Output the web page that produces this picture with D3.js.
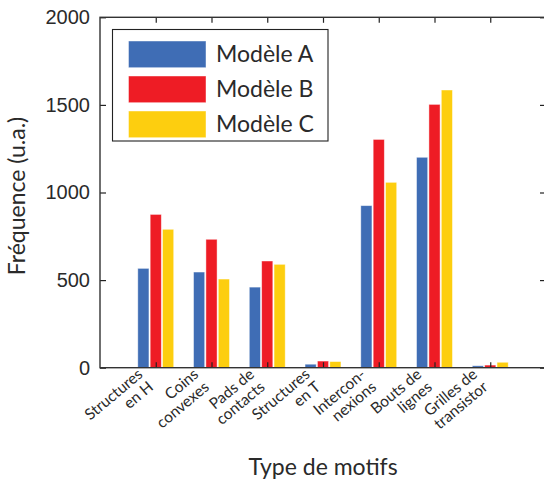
<!DOCTYPE html>
<html>
<head>
<meta charset="utf-8">
<script src="https://cdn.jsdelivr.net/npm/d3@7"></script>
<style>
  html, body { margin: 0; padding: 0; background: #fff; }
  svg { display: block; }
</style>
</head>
<body>
<svg id="chart" width="544" height="487"></svg>
<script>
// Motif categories (each label split over two lines)
const categories = [
  ["Structures", "en H"],
  ["Coins", "convexes"],
  ["Pads de", "contacts"],
  ["Structures", "en T"],
  ["Intercon-", "nexions"],
  ["Bouts de", "lignes"],
  ["Grilles de", "transistor"]
];
const seriesNames = ["Modèle A", "Modèle B", "Modèle C"];
const valuesA = [567, 546, 460, 20, 925, 1201, 11];
const valuesB = [875, 733, 609, 38, 1303, 1503, 15];
const valuesC = [790, 506, 590, 35, 1058, 1585, 31];
const yTicks = [0, 500, 1000, 1500, 2000];
const colors = ["#3F6DB5", "#EE1C25", "#FDCE0F"];

const series = [valuesA, valuesB, valuesC];
const svg = d3.select("#chart");

const x = d3.scaleLinear().domain([0, 8]).range([100, 546]);
const y = d3.scaleLinear().domain([0, 2000]).range([367.7, 17.3]);
const barOffset = 0.222, barWidth = 0.2;

const titleFont = "Lato, 'Open Sans', sans-serif";
const textColor = "#2a2a2a";

// Bars
series.forEach((vals, s) => {
  svg.append("g").selectAll("rect").data(vals).join("rect")
    .attr("x", (d, i) => x(i + 1 + (s - 1) * barOffset - barWidth / 2))
    .attr("width", x(barWidth) - x(0))
    .attr("y", d => y(d))
    .attr("height", d => y(0) - y(d))
    .attr("fill", colors[s])
    .attr("stroke", "rgba(255,255,255,0.55)")
    .attr("stroke-width", 0.8);
});

// Axes with inward ticks on all four sides
const tickStyle = g => {
  g.select(".domain").remove();
  g.selectAll(".tick line").attr("stroke", "#222").attr("stroke-width", 1.2);
};
svg.append("g").attr("transform", `translate(${x(0)},0)`)
  .call(d3.axisLeft(y).tickValues(yTicks).tickSize(-6).tickPadding(10).tickFormat(d3.format("d")))
  .call(tickStyle)
  .call(g => g.selectAll("text").attr("font-family", "'Liberation Sans', Arial, sans-serif")
    .attr("font-size", 20).attr("fill", textColor));
svg.append("g").attr("transform", `translate(${x(8)},0)`)
  .call(d3.axisRight(y).tickValues(yTicks).tickSize(-6).tickFormat(""))
  .call(tickStyle);
svg.append("g").attr("transform", `translate(0,${y(0)})`)
  .call(d3.axisBottom(x).tickValues(d3.range(1, 8)).tickSize(-5.5).tickFormat(""))
  .call(tickStyle);
svg.append("g").attr("transform", `translate(0,${y(2000)})`)
  .call(d3.axisTop(x).tickValues(d3.range(1, 8)).tickSize(-5.5).tickFormat(""))
  .call(tickStyle);

// Plot frame
svg.append("rect")
  .attr("x", x(0)).attr("y", y(2000))
  .attr("width", x(8) - x(0)).attr("height", y(0) - y(2000))
  .attr("fill", "none").attr("stroke", "#333").attr("stroke-width", 1.4);

// Rotated two-line category labels, right-aligned
const catLabels = svg.append("g").selectAll("text").data(categories).join("text")
  .attr("transform", (d, i) => `translate(${x(i + 1) - 12},376) rotate(-40)`)
  .attr("text-anchor", "end")
  .attr("font-family", titleFont)
  .attr("font-size", 15.5)
  .attr("fill", textColor);
catLabels.selectAll("tspan").data(d => d).join("tspan")
  .attr("x", 0)
  .attr("y", (d, j) => j * 16.5)
  .text(d => d);

// Axis titles
svg.append("text")
  .attr("x", (x(0) + x(8)) / 2).attr("y", 475)
  .attr("text-anchor", "middle")
  .attr("font-family", titleFont).attr("font-size", 23).attr("fill", textColor)
  .text("Type de motifs");
svg.append("text")
  .attr("transform", `translate(25,196) rotate(-90)`)
  .attr("text-anchor", "middle")
  .attr("font-family", titleFont).attr("font-size", 23).attr("fill", textColor)
  .text("Fréquence (u.a.)");

// Legend
const legend = svg.append("g");
legend.append("rect")
  .attr("x", 112.5).attr("y", 29.5).attr("width", 215.5).attr("height", 111.5)
  .attr("fill", "#fff").attr("stroke", "#222").attr("stroke-width", 1.1);
const items = legend.selectAll("g.item").data(seriesNames).join("g")
  .attr("class", "item")
  .attr("transform", (d, i) => `translate(0,${41 + i * 35})`);
items.append("rect")
  .attr("x", 128.5).attr("y", 0).attr("width", 77.5).attr("height", 26.7)
  .attr("fill", (d, i) => colors[i])
  .attr("stroke", "rgba(255,255,255,0.55)").attr("stroke-width", 0.8);
items.append("text")
  .attr("x", 216).attr("y", 20.5)
  .attr("font-family", titleFont).attr("font-size", 23).attr("fill", textColor)
  .text(d => d);
</script>
</body>
</html>
